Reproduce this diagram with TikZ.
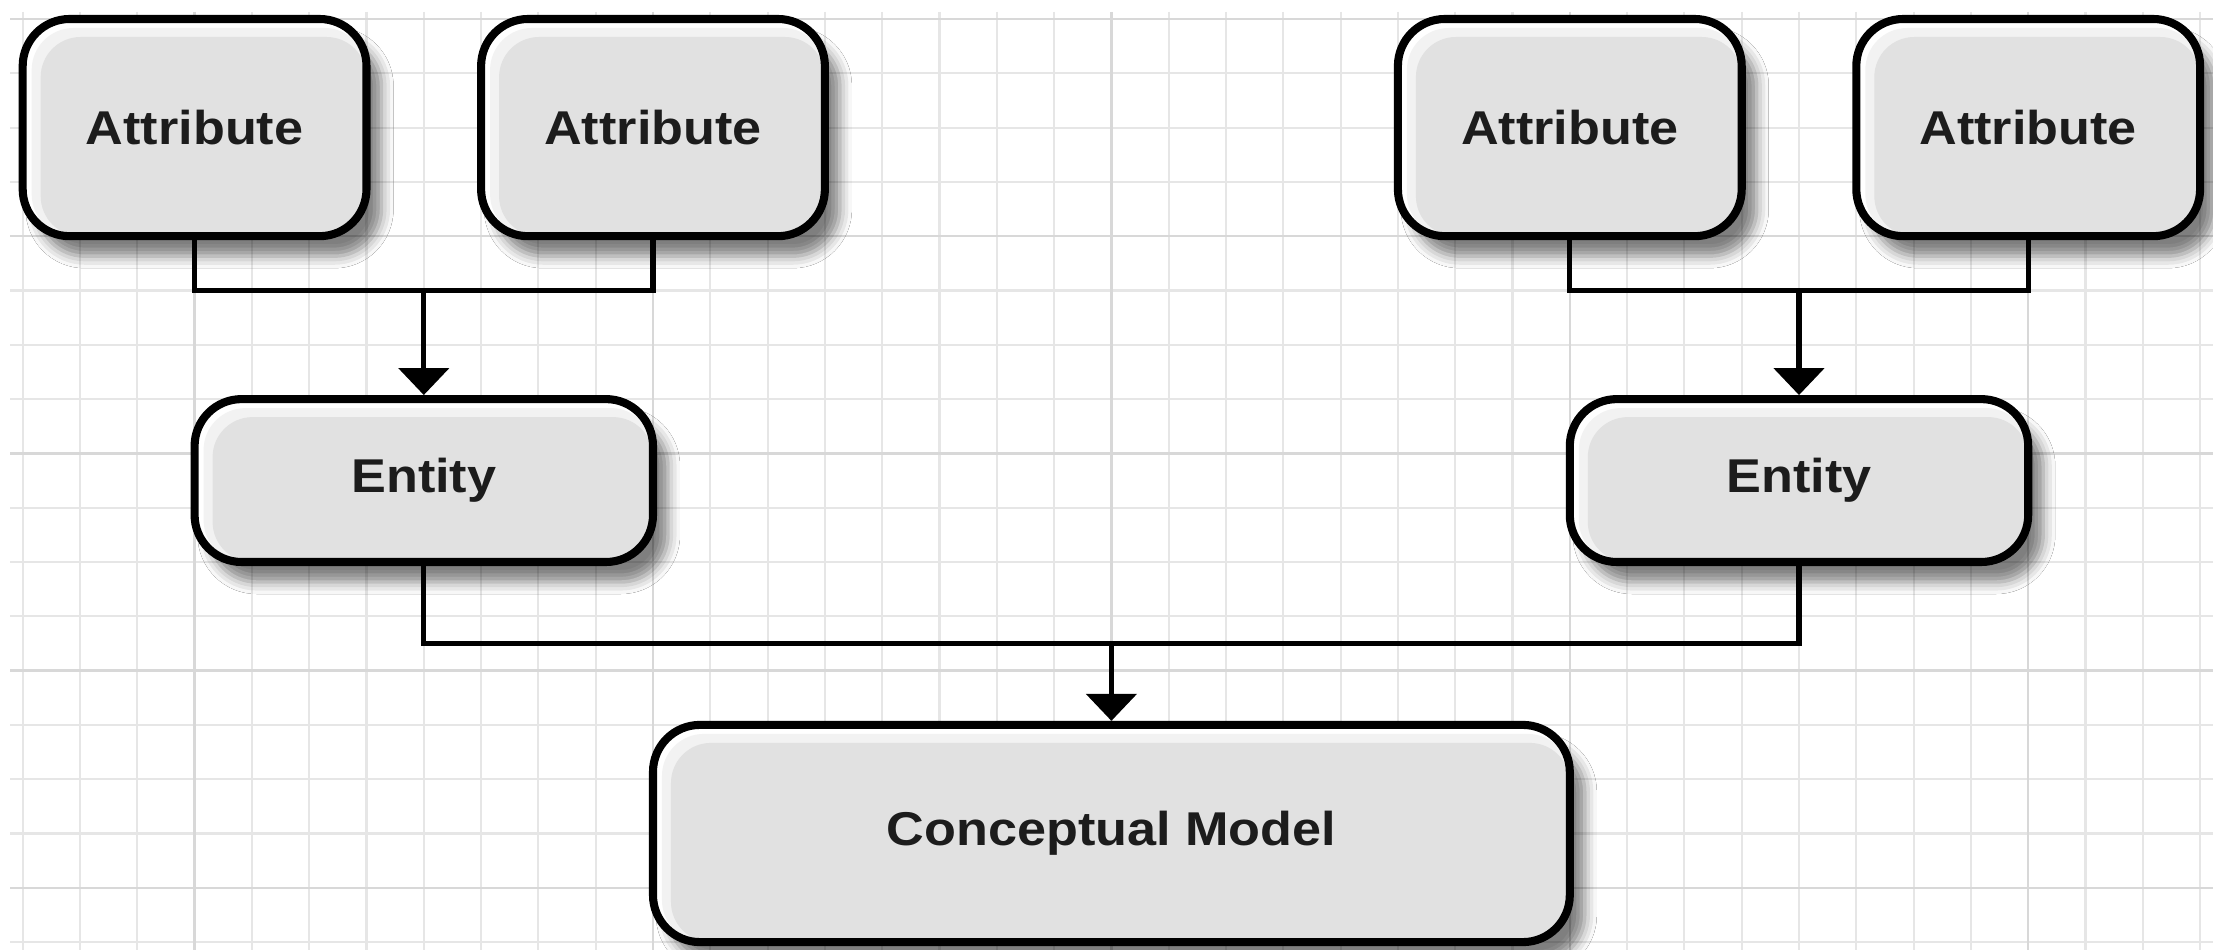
\documentclass[tikz,border=0pt]{standalone}
\usepackage{fontspec}
\setmainfont{Liberation Sans}
\usetikzlibrary{arrows.meta,shadows.blur,calc}
\definecolor{gridminor}{HTML}{E6E6E6}
\definecolor{gridmajor}{HTML}{D8D8D8}
\definecolor{shadegray}{HTML}{E1E1E1}
\definecolor{rimgray}{HTML}{F2F2F2}
\definecolor{txt}{HTML}{1C1C1C}
\newcommand{\boxtext}[1]{\scalebox{1.1}[1]{#1}}
\tikzset{
  ebox/.style={draw=black, line width=2.3pt, rounded corners=0.47cm, fill=white,
    inner sep=0pt, font=\fontsize{13.5}{16}\selectfont\bfseries, text=txt,
    blur shadow={shadow xshift=0.15cm, shadow yshift=-0.2cm,
      shadow blur radius=0.12cm, shadow opacity=50},
    path picture={
      \fill[rimgray, rounded corners=0.42cm]
        ($(path picture bounding box.north west)+(0.09cm,-0.09cm)$)
        rectangle (path picture bounding box.south east);
      \fill[shadegray, rounded corners=0.4cm]
        ($(path picture bounding box.north west)+(0.18cm,-0.18cm)$)
        rectangle (path picture bounding box.south east);
    }},
  attr/.style={ebox, minimum width=3.438cm, minimum height=2.172cm},
  ent/.style={ebox, minimum width=4.584cm, minimum height=1.629cm},
  model/.style={ebox, minimum width=9.168cm, minimum height=2.172cm},
  link/.style={line width=1.5pt, draw=black},
  arr/.style={link, -{Triangle[width=0.5cm, length=0.27cm]}},
  gminor/.style={draw=gridminor, line width=0.6pt},
  gmajor/.style={draw=gridmajor, line width=0.7pt},
}
\begin{document}
\begin{tikzpicture}[x=0.573cm, y=-0.543cm]
  \useasboundingbox (-3.396,-0.35) rectangle (35.225,17.145);
  \fill[white] (-3.396,-0.35) rectangle (35.225,17.145);
  % grid
  \foreach \k in {-3,...,35} \draw[gminor] (\k,-0.13) -- (\k,17.145);
  \foreach \j in {0,...,17} \draw[gminor] (-3.22,\j) -- (35.225,\j);
  \foreach \k in {0,8,16,24,32} \draw[gmajor] (\k,-0.13) -- (\k,17.145);
  \foreach \j in {0,4,8,12,16} \draw[gmajor] (-3.22,\j) -- (35.225,\j);

  % nodes
  \node[attr] (a1) at (0,2) {\boxtext{Attribute}};
  \node[attr] (a2) at (8,2) {\boxtext{Attribute}};
  \node[attr] (a3) at (24,2) {\boxtext{Attribute}};
  \node[attr] (a4) at (32,2) {\boxtext{Attribute}};
  \node[ent] (e1) at (4,8.5) {\boxtext{Entity}};
  \node[ent] (e2) at (28,8.5) {\boxtext{Entity}};
  \node[model] (cm) at (16,15) {\boxtext{Conceptual Model}};

  % junctions
  \coordinate (jA) at (4,5);
  \coordinate (jB) at (28,5);
  \coordinate (jC) at (16,11.5);

  % connectors
  \draw[link] (a1.south) -- (a1.south |- jA) -- (a2.south |- jA) -- (a2.south);
  \draw[arr] (jA) -- (e1.north);
  \draw[link] (a3.south) -- (a3.south |- jB) -- (a4.south |- jB) -- (a4.south);
  \draw[arr] (jB) -- (e2.north);
  \draw[link] (e1.south) -- (e1.south |- jC) -- (e2.south |- jC) -- (e2.south);
  \draw[arr] (jC) -- (cm.north);
\end{tikzpicture}
\end{document}
